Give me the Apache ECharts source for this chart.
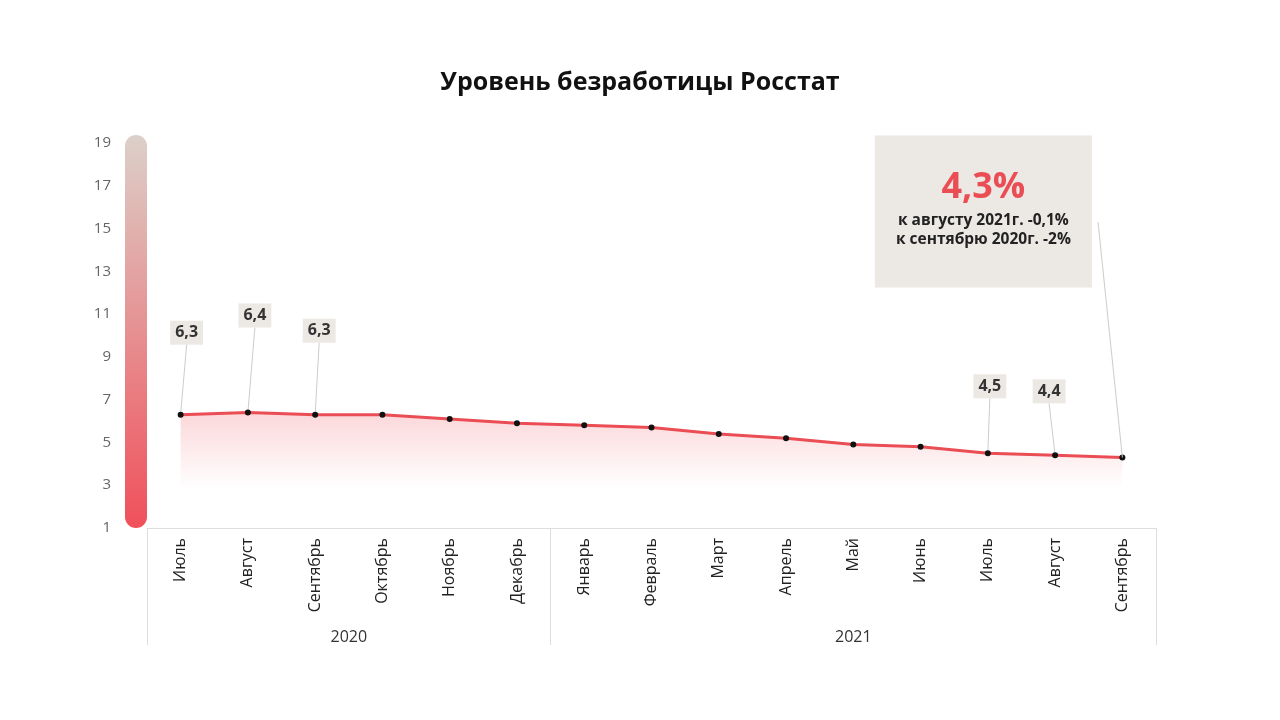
<!DOCTYPE html>
<html>
<head>
<meta charset="utf-8">
<script src="https://cdn.jsdelivr.net/npm/echarts@6/dist/echarts.min.js"></script>
<style>
  html, body { margin: 0; padding: 0; background: #fff; }
  #chart { width: 1280px; height: 720px; }
</style>
</head>
<body>
<div id="chart"></div>
<script>
// данные
var months = ['Июль', 'Август', 'Сентябрь', 'Октябрь', 'Ноябрь', 'Декабрь',
  'Январь', 'Февраль', 'Март', 'Апрель', 'Май', 'Июнь', 'Июль', 'Август', 'Сентябрь'];
var rate = [6.3, 6.4, 6.3, 6.3, 6.1, 5.9, 5.8, 5.7, 5.4, 5.2, 4.9, 4.8, 4.5, 4.4, 4.3];
var years = ['2020', '2021'];
var yearMonths = [6, 9];
var labeled = [0, 1, 2, 12, 13];
var noteLines = ['к августу 2021г. -0,1%', 'к сентябрю 2020г. -2%'];

// сдвиги подписей (оформление)
var labelShift = { 0: [6, -62], 1: [7, -77], 2: [4, -64], 12: [2, -47], 13: [-6, -44], 14: [-139, -162] };

var FONT = 'Open Sans';
var RED = '#eb4d55';

// границы и центры годов
var bounds = [0];
var centers = [];
yearMonths.forEach(function (n) {
  var start = bounds[bounds.length - 1];
  centers.push(start + n / 2);
  bounds.push(start + n);
});

function comma(v) { return String(v).replace('.', ','); }

var last = rate.length - 1;
var seriesData = rate.map(function (v, i) {
  var item = { value: v };
  if (labeled.indexOf(i) >= 0) {
    item.label = { show: true, formatter: comma(v) };
  }
  if (i === last) {
    item.label = {
      show: true,
      formatter: '{big|' + comma(v) + '%}\n{txt|' + noteLines.join('}\n{txt|') + '}',
      backgroundColor: '#ece8e4',
      padding: [28, 16, 38, 16],
      width: 185,
      align: 'center',
      rich: {
        big: { fontFamily: FONT, fontWeight: 'bold', fontSize: 36, color: RED, lineHeight: 48, align: 'center' },
        txt: { fontFamily: FONT, fontWeight: 'bold', fontSize: 15.5, color: '#222', lineHeight: 19, align: 'center' }
      }
    };
    item.labelLine = { show: false };
  }
  return item;
});

var chart = echarts.init(document.getElementById('chart'));
chart.setOption({
  backgroundColor: '#fff',
  animation: false,
  title: {
    text: 'Уровень безработицы Росстат',
    left: 'center',
    top: 65,
    textStyle: { fontFamily: FONT, fontWeight: 'bold', fontSize: 25, color: '#111' }
  },
  graphic: [{
    type: 'rect',
    left: 125,
    top: 135,
    shape: { width: 22, height: 393, r: 11 },
    style: {
      fill: new echarts.graphic.LinearGradient(0, 0, 0, 1, [
        { offset: 0, color: '#dcd0c9' },
        { offset: 1, color: '#f0505a' }
      ])
    },
    z: -1
  }],
  grid: { left: 147, right: 124, top: 143, bottom: 192 },
  xAxis: [{
    type: 'category',
    data: months,
    boundaryGap: true,
    axisLine: { lineStyle: { color: '#dddddd' } },
    axisTick: { show: false },
    axisLabel: { interval: 0, rotate: 90, margin: 10, fontFamily: FONT, fontSize: 16, color: '#222' }
  }, {
    type: 'value',
    position: 'bottom',
    min: 0,
    max: months.length,
    axisLine: { show: false },
    splitLine: { show: false },
    axisTick: {
      show: true,
      length: 117,
      customValues: bounds,
      lineStyle: { color: '#dddddd' }
    },
    axisLabel: {
      margin: 101,
      fontFamily: FONT,
      fontSize: 16,
      color: '#333',
      customValues: centers,
      formatter: function (v) {
        var k = centers.indexOf(v);
        return k >= 0 ? years[k] : '';
      }
    }
  }],
  yAxis: {
    type: 'value',
    min: 1,
    max: 19,
    interval: 2,
    axisLine: { show: false },
    axisTick: { show: false },
    splitLine: { show: false },
    axisLabel: { margin: 36, fontFamily: FONT, fontSize: 15, color: '#666' }
  },
  series: [{
    type: 'line',
    xAxisIndex: 0,
    data: seriesData,
    symbol: 'circle',
    symbolSize: 6,
    itemStyle: { color: '#111' },
    lineStyle: { color: RED, width: 3 },
    areaStyle: {
      color: new echarts.graphic.LinearGradient(0, 0, 0, 1, [
        { offset: 0, color: 'rgba(240,80,90,0.32)' },
        { offset: 0.66, color: 'rgba(240,80,90,0)' }
      ])
    },
    label: {
      show: false,
      position: 'top',
      fontFamily: FONT,
      fontWeight: 'bold',
      fontSize: 16,
      color: '#333',
      backgroundColor: '#ece8e4',
      padding: [4, 5]
    },
    labelLine: { show: true, lineStyle: { color: '#cccccc', width: 1 } },
    labelLayout: function (p) {
      var s = labelShift[p.dataIndex];
      return s ? { dx: s[0], dy: s[1] } : {};
    },
    markLine: {
      silent: true,
      symbol: 'none',
      label: { show: false },
      lineStyle: { color: '#cccccc', width: 1, type: 'solid' },
      data: [[{ coord: [last, rate[last]] }, { x: 1098, y: 222 }]]
    }
  }]
});
</script>
</body>
</html>
